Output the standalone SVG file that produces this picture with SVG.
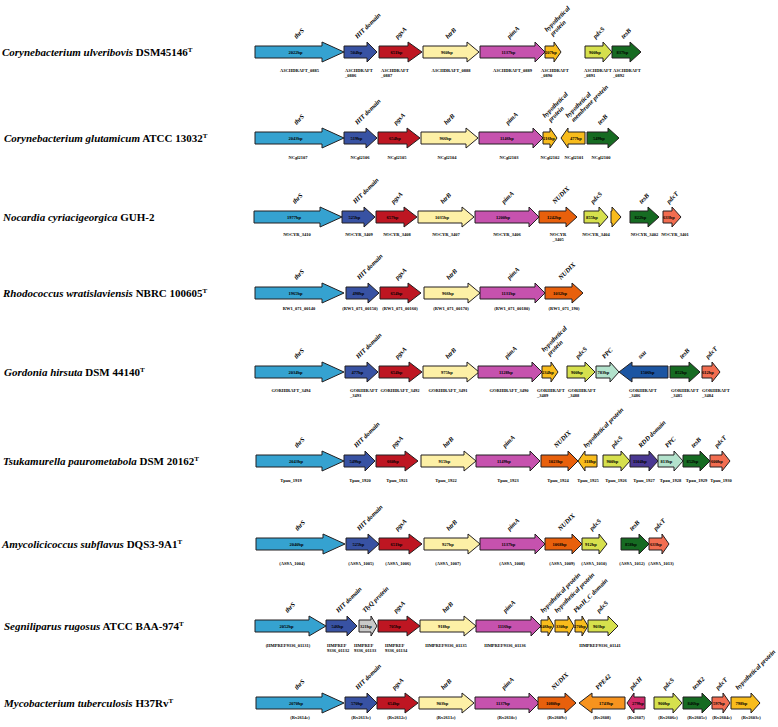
<svg xmlns="http://www.w3.org/2000/svg" width="778" height="727" viewBox="0 0 778 727">
<style>
.a{stroke:#231f20;stroke-width:1;stroke-linejoin:miter}
.thr{fill:#35a2d0}.hit{fill:#3852a3}.pgs{fill:#be1622}.htr{fill:#fdf0a6}.pim{fill:#c652ae}
.hyp{fill:#f8bc1c}.nud{fill:#e8600c}.pds{fill:#d6e04d}.tes{fill:#166b22}.pdt{fill:#f26d50}
.ppc{fill:#b3e2cc}.ssu{fill:#1c55a2}.rdd{fill:#4a3892}.tly{fill:#c9c9c9}.ppe{fill:#f7931e}.pdh{fill:#d22a6a}
text{font-family:"Liberation Serif","Times New Roman",serif;font-weight:bold;fill:#000}
.sp{font-size:11px}
.i{font-style:italic}
.lab{font-size:6.5px;font-style:italic}
.sz{font-size:4.5px;text-anchor:middle}
.loc{font-size:4.5px;text-anchor:middle}
.l{text-anchor:start}
</style>
<g id="connectors"/>

<g id="row1" transform="translate(0,52)">
<g id="sp1"><text class="sp" x="2" y="4"><tspan class="i">Corynebacterium ulveribovis</tspan> DSM45146<tspan dy="-4" font-size="7">T</tspan></text></g>
<g id="r1-thrS"><polygon class="a thr" points="255,-6 322,-6 322,-10 344,0 322,10 322,6 255,6"/><text class="sz" x="295.5" y="1.6">2022bp</text><text class="lab" transform="translate(296.5,-13) rotate(-45)">thrS</text><text class="loc" x="299.5" y="20">A3CHDRAFT_0885</text></g>
<g id="r1-hit"><polygon class="a hit" points="344,-6 367,-6 367,-10 377,0 367,10 367,6 344,6"/><text class="sz" x="356.5" y="1.6">504bp</text><text class="lab" transform="translate(357.5,-13) rotate(-45)">HIT domain</text><text class="loc l" x="345" y="20">A3CHDRAFT<tspan x="345" dy="5">_0886</tspan></text></g>
<g id="r1-pgsA"><polygon class="a pgs" points="379,-6 408,-6 408,-10 422,0 408,10 408,6 379,6"/><text class="sz" x="396.5" y="1.6">651bp</text><text class="lab" transform="translate(397.5,-13) rotate(-45)">pgsA</text><text class="loc l" x="381" y="20">A3CHDRAFT<tspan x="381" dy="5">_0887</tspan></text></g>
<g id="r1-htrB"><polygon class="a htr" points="423,-6 467,-6 467,-10 479,0 467,10 467,6 423,6"/><text class="sz" x="447" y="1.6">960bp</text><text class="lab" transform="translate(448,-13) rotate(-45)">htrB</text><text class="loc" x="451" y="20">A3CHDRAFT_0888</text></g>
<g id="r1-pimA"><polygon class="a pim" points="480,-6 535,-6 535,-10 545,0 535,10 535,6 480,6"/><text class="sz" x="508.5" y="1.6">1137bp</text><text class="lab" transform="translate(509.5,-13) rotate(-45)">pimA</text><text class="loc" x="512.5" y="20">A3CHDRAFT_0889</text></g>
<g id="r1-hyp"><polygon class="a hyp" points="545,-6 554,-6 554,-10 561,0 554,10 554,6 545,6"/><text class="sz" x="551" y="1.6">207bp</text><text class="lab" transform="translate(547,-20) rotate(-45)">hypothetical<tspan x="1" dy="7">protein</tspan></text><text class="loc l" x="541" y="20">A3CHDRAFT<tspan x="541" dy="5">_0890</tspan></text></g>
<g id="r1-pdxS"><polygon class="a pds" points="585,-6 603,-6 603,-10 612,0 603,10 603,6 585,6"/><text class="sz" x="595" y="1.6">900bp</text><text class="lab" transform="translate(595.5,-13) rotate(-45)">pdxS</text><text class="loc l" x="584" y="20">A3CHDRAFT<tspan x="584" dy="5">_0891</tspan></text></g>
<g id="r1-tesB"><polygon class="a tes" points="612,-6 630,-6 630,-10 641,0 630,10 630,6 612,6"/><text class="sz" x="622.5" y="1.6">837bp</text><text class="lab" transform="translate(623.5,-13) rotate(-45)">tesB</text><text class="loc l" x="613" y="20">A3CHDRAFT<tspan x="613" dy="5">_0892</tspan></text></g>
</g>

<g id="row2" transform="translate(0,138)">
<g id="sp2"><text class="sp" x="4" y="4"><tspan class="i">Corynebacterium glutamicum</tspan> ATCC 13032<tspan dy="-4" font-size="7">T</tspan></text></g>
<g id="r2-thrS"><polygon class="a thr" points="255,-6 322,-6 322,-10 344,0 322,10 322,6 255,6"/><text class="sz" x="295.5" y="1.6">2043bp</text><text class="lab" transform="translate(296.5,-13) rotate(-45)">thrS</text><text class="loc" x="298" y="21">NCgl2107</text></g>
<g id="r2-hit"><polygon class="a hit" points="344,-6 366,-6 366,-10 377,0 366,10 366,6 344,6"/><text class="sz" x="356.5" y="1.6">519bp</text><text class="lab" transform="translate(357.5,-13) rotate(-45)">HIT domain</text><text class="loc" x="360" y="21">NCgl2106</text></g>
<g id="r2-pgsA"><polygon class="a pgs" points="378,-6 407,-6 407,-10 420,0 407,10 407,6 378,6"/><text class="sz" x="395" y="1.6">654bp</text><text class="lab" transform="translate(396,-13) rotate(-45)">pgsA</text><text class="loc" x="397" y="21">NCgl2105</text></g>
<g id="r2-htrB"><polygon class="a htr" points="421,-6 466,-6 466,-10 478,0 466,10 466,6 421,6"/><text class="sz" x="445.5" y="1.6">966bp</text><text class="lab" transform="translate(446.5,-13) rotate(-45)">htrB</text><text class="loc" x="447" y="21">NCgl2104</text></g>
<g id="r2-pimA"><polygon class="a pim" points="479,-6 533,-6 533,-10 543,0 533,10 533,6 479,6"/><text class="sz" x="507" y="1.6">1146bp</text><text class="lab" transform="translate(508,-13) rotate(-45)">pimA</text><text class="loc" x="509" y="21">NCgl2103</text></g>
<g id="r2-hyp"><polygon class="a hyp" points="543,-6 550,-6 550,-10 557,0 550,10 550,6 543,6"/><text class="sz" x="549" y="1.6">216bp</text><text class="lab" transform="translate(545,-20) rotate(-45)">hypothetical<tspan x="1" dy="7">protein</tspan></text><text class="loc" x="550" y="21">NCgl2102</text></g>
<g id="r2-hypm"><polygon class="a hyp" points="585,-6 568,-6 568,-10 561,0 568,10 568,6 585,6"/><text class="sz" x="576" y="1.6">477bp</text><text class="lab" transform="translate(568,-20) rotate(-45)">hypothetical<tspan x="1" dy="7">membrane protein</tspan></text><text class="loc" x="574" y="21">NCgl2101</text></g>
<g id="r2-tesB"><polygon class="a tes" points="587,-6 608,-6 608,-10 619,0 608,10 608,6 587,6"/><text class="sz" x="599" y="1.6">549bp</text><text class="lab" transform="translate(600,-13) rotate(-45)">tesB</text><text class="loc" x="601" y="21">NCgl2100</text></g>
</g>

<g id="row3" transform="translate(0,217)">
<g id="sp3"><text class="sp" x="3" y="4"><tspan class="i">Nocardia cyriacigeorgica</tspan> GUH-2</text></g>
<g id="r3-thrS"><polygon class="a thr" points="254,-6 320,-6 320,-10 342,0 320,10 320,6 254,6"/><text class="sz" x="294" y="1.6">1977bp</text><text class="lab" transform="translate(295,-13) rotate(-45)">thrS</text><text class="loc" x="297" y="19">NOCYR_3410</text></g>
<g id="r3-hit"><polygon class="a hit" points="342,-6 364,-6 364,-10 375,0 364,10 364,6 342,6"/><text class="sz" x="354.5" y="1.6">525bp</text><text class="lab" transform="translate(355.5,-13) rotate(-45)">HIT domain</text><text class="loc" x="359" y="19">NOCYR_3409</text></g>
<g id="r3-pgsA"><polygon class="a pgs" points="376,-6 404,-6 404,-10 417,0 404,10 404,6 376,6"/><text class="sz" x="392.5" y="1.6">657bp</text><text class="lab" transform="translate(393.5,-13) rotate(-45)">pgsA</text><text class="loc" x="397" y="19">NOCYR_3408</text></g>
<g id="r3-htrB"><polygon class="a htr" points="418,-6 462,-6 462,-10 474,0 462,10 462,6 418,6"/><text class="sz" x="442" y="1.6">1035bp</text><text class="lab" transform="translate(443,-13) rotate(-45)">htrB</text><text class="loc" x="446" y="19">NOCYR_3407</text></g>
<g id="r3-pimA"><polygon class="a pim" points="475,-6 529,-6 529,-10 539,0 529,10 529,6 475,6"/><text class="sz" x="503" y="1.6">1200bp</text><text class="lab" transform="translate(504,-13) rotate(-45)">pimA</text><text class="loc" x="507" y="19">NOCYR_3406</text></g>
<g id="r3-nudix"><polygon class="a nud" points="539,-6 566,-6 566,-10 577,0 566,10 566,6 539,6"/><text class="sz" x="554" y="1.6">1242bp</text><text class="lab" transform="translate(555,-13) rotate(-45)">NUDIX</text><text class="loc" x="558" y="19">NOCYR<tspan x="558" dy="5">_3405</tspan></text></g>
<g id="r3-pdxS"><polygon class="a pds" points="584,-6 599,-6 599,-10 608,0 599,10 599,6 584,6"/><text class="sz" x="592" y="1.6">855bp</text><text class="lab" transform="translate(593,-13) rotate(-45)">pdxS</text><text class="loc" x="596" y="19">NOCYR_3404</text></g>
<g id="r3-small"><polygon class="a hyp" points="611,-6 612,-6 612,-10 621,0 612,10 612,6 611,6"/></g>
<g id="r3-tesB"><polygon class="a tes" points="630,-6 648,-6 648,-10 659,0 648,10 648,6 630,6"/><text class="sz" x="640.5" y="1.6">822bp</text><text class="lab" transform="translate(641.5,-13) rotate(-45)">tesB</text><text class="loc" x="644.5" y="19">NOCYR_3402</text></g>
<g id="r3-pdxT"><polygon class="a pdt" points="663,-6 672,-6 672,-10 681,0 672,10 672,6 663,6"/><text class="sz" x="669" y="1.6">633bp</text><text class="lab" transform="translate(669,-13) rotate(-45)">pdxT</text><text class="loc" x="675" y="19">NOCYR_3401</text></g>
</g>

<g id="row4" transform="translate(0,293)">
<g id="sp4"><text class="sp" x="3" y="4"><tspan class="i">Rhodococcus wratislaviensis</tspan> NBRC 100605<tspan dy="-4" font-size="7">T</tspan></text></g>
<g id="r4-thrS"><polygon class="a thr" points="255,-6 322,-6 322,-10 344,0 322,10 322,6 255,6"/><text class="sz" x="295.5" y="1.6">1965bp</text><text class="lab" transform="translate(296.5,-13) rotate(-45)">thrS</text><text class="loc" x="299" y="17">RW1_071_00140</text></g>
<g id="r4-hit"><polygon class="a hit" points="346,-6 368,-6 368,-10 379,0 368,10 368,6 346,6"/><text class="sz" x="358.5" y="1.6">498bp</text><text class="lab" transform="translate(359.5,-13) rotate(-45)">HIT domain</text><text class="loc" x="360" y="17">(RW1_071_00150)</text></g>
<g id="r4-pgsA"><polygon class="a pgs" points="380,-6 408,-6 408,-10 421,0 408,10 408,6 380,6"/><text class="sz" x="396.5" y="1.6">654bp</text><text class="lab" transform="translate(397.5,-13) rotate(-45)">pgsA</text><text class="loc" x="400" y="17">(RW1_071_00160)</text></g>
<g id="r4-htrB"><polygon class="a htr" points="424,-6 468,-6 468,-10 480,0 468,10 468,6 424,6"/><text class="sz" x="448" y="1.6">966bp</text><text class="lab" transform="translate(449,-13) rotate(-45)">htrB</text><text class="loc" x="451" y="17">(RW1_071_00170)</text></g>
<g id="r4-pimA"><polygon class="a pim" points="480,-6 535,-6 535,-10 545,0 535,10 535,6 480,6"/><text class="sz" x="508.5" y="1.6">1131bp</text><text class="lab" transform="translate(509.5,-13) rotate(-45)">pimA</text><text class="loc" x="512" y="17">(RW1_071_00180)</text></g>
<g id="r4-nudix"><polygon class="a nud" points="545,-6 572,-6 572,-10 583,0 572,10 572,6 545,6"/><text class="sz" x="560" y="1.6">1032bp</text><text class="lab" transform="translate(561,-13) rotate(-45)">NUDIX</text><text class="loc" x="564" y="17">(RW1_071_190)</text></g>
</g>

<g id="row5" transform="translate(0,372)">
<g id="sp5"><text class="sp" x="4" y="4"><tspan class="i">Gordonia hirsuta</tspan> DSM 44140<tspan dy="-4" font-size="7">T</tspan></text></g>
<g id="r5-thrS"><polygon class="a thr" points="255,-6 322,-6 322,-10 344,0 322,10 322,6 255,6"/><text class="sz" x="295.5" y="1.6">2034bp</text><text class="lab" transform="translate(296.5,-13) rotate(-45)">thrS</text><text class="loc" x="291" y="20">GORHIRAFT_3494</text></g>
<g id="r5-hit"><polygon class="a hit" points="345,-6 367,-6 367,-10 378,0 367,10 367,6 345,6"/><text class="sz" x="357.5" y="1.6">477bp</text><text class="lab" transform="translate(358.5,-13) rotate(-45)">HIT domain</text><text class="loc l" x="350" y="20">GORHIRAFT<tspan x="350" dy="5">_3493</tspan></text></g>
<g id="r5-pgsA"><polygon class="a pgs" points="379,-6 409,-6 409,-10 422,0 409,10 409,6 379,6"/><text class="sz" x="396.5" y="1.6">654bp</text><text class="lab" transform="translate(397.5,-13) rotate(-45)">pgsA</text><text class="loc" x="400" y="20">GORHIRAFT_3492</text></g>
<g id="r5-htrB"><polygon class="a htr" points="423,-6 467,-6 467,-10 479,0 467,10 467,6 423,6"/><text class="sz" x="447" y="1.6">975bp</text><text class="lab" transform="translate(448,-13) rotate(-45)">htrB</text><text class="loc" x="448" y="20">GORHIRAFT_3491</text></g>
<g id="r5-pimA"><polygon class="a pim" points="478,-6 532,-6 532,-10 542,0 532,10 532,6 478,6"/><text class="sz" x="506" y="1.6">1128bp</text><text class="lab" transform="translate(507,-13) rotate(-45)">pimA</text><text class="loc" x="509" y="20">GORHIRAFT_3490</text></g>
<g id="r5-hyp"><polygon class="a hyp" points="542,-6 551,-6 551,-10 558,0 551,10 551,6 542,6"/><text class="sz" x="548" y="1.6">234bp</text><text class="lab" transform="translate(544,-20) rotate(-45)">hypothetical<tspan x="1" dy="7">protein</tspan></text><text class="loc l" x="537" y="20">GORHIRAFT<tspan x="537" dy="5">_3489</tspan></text></g>
<g id="r5-pdxS"><polygon class="a pds" points="567,-6 585,-6 585,-10 595,0 585,10 585,6 567,6"/><text class="sz" x="577" y="1.6">900bp</text><text class="lab" transform="translate(578,-13) rotate(-45)">pdxS</text><text class="loc l" x="568" y="20">GORHIRAFT<tspan x="568" dy="5">_3488</tspan></text></g>
<g id="r5-ppc"><polygon class="a ppc" points="596,-6 610,-6 610,-10 619,0 610,10 610,6 596,6"/><text class="sz" x="603.5" y="1.6">783bp</text><text class="lab" transform="translate(604.5,-13) rotate(-45)">PPC</text></g>
<g id="r5-ssu"><polygon class="a ssu" points="668,-6 632,-6 632,-10 619,0 632,10 632,6 668,6"/><text class="sz" x="647.5" y="1.6">1506bp</text><text class="lab" transform="translate(640.5,-13) rotate(-45)">ssu</text><text class="loc l" x="629" y="20">GORHIRAFT<tspan x="629" dy="5">_3486</tspan></text></g>
<g id="r5-tesB"><polygon class="a tes" points="670,-6 689,-6 689,-10 700,0 689,10 689,6 670,6"/><text class="sz" x="681" y="1.6">852bp</text><text class="lab" transform="translate(682,-13) rotate(-45)">tesB</text><text class="loc l" x="671" y="20">GORHIRAFT<tspan x="671" dy="5">_3485</tspan></text></g>
<g id="r5-pdxT"><polygon class="a pdt" points="702,-6 712,-6 712,-10 720,0 712,10 712,6 702,6"/><text class="sz" x="708" y="1.6">612bp</text><text class="lab" transform="translate(708,-13) rotate(-45)">pdxT</text><text class="loc l" x="702" y="20">GORHIRAFT<tspan x="702" dy="5">_3484</tspan></text></g>
</g>

<g id="row6" transform="translate(0,461)">
<g id="sp6"><text class="sp" x="3" y="4"><tspan class="i">Tsukamurella paurometabola</tspan> DSM 20162<tspan dy="-4" font-size="7">T</tspan></text></g>
<g id="r6-thrS"><polygon class="a thr" points="256,-6 322,-6 322,-10 344,0 322,10 322,6 256,6"/><text class="sz" x="296" y="1.6">2043bp</text><text class="lab" transform="translate(297,-13) rotate(-45)">thrS</text><text class="loc" x="291" y="21">Tpau_1919</text></g>
<g id="r6-hit"><polygon class="a hit" points="344,-6 365,-6 365,-10 375,0 365,10 365,6 344,6"/><text class="sz" x="355.5" y="1.6">549bp</text><text class="lab" transform="translate(356.5,-13) rotate(-45)">HIT domain</text><text class="loc" x="360" y="21">Tpau_1920</text></g>
<g id="r6-pgsA"><polygon class="a pgs" points="376,-6 405,-6 405,-10 418,0 405,10 405,6 376,6"/><text class="sz" x="393" y="1.6">660bp</text><text class="lab" transform="translate(394,-13) rotate(-45)">pgsA</text><text class="loc" x="397" y="21">Tpau_1921</text></g>
<g id="r6-htrB"><polygon class="a htr" points="421,-6 464,-6 464,-10 476,0 464,10 464,6 421,6"/><text class="sz" x="444.5" y="1.6">915bp</text><text class="lab" transform="translate(445.5,-13) rotate(-45)">htrB</text><text class="loc" x="446" y="21">Tpau_1922</text></g>
<g id="r6-pimA"><polygon class="a pim" points="476,-6 530,-6 530,-10 540,0 530,10 530,6 476,6"/><text class="sz" x="504" y="1.6">1149bp</text><text class="lab" transform="translate(505,-13) rotate(-45)">pimA</text><text class="loc" x="508" y="21">Tpau_1923</text></g>
<g id="r6-nudix"><polygon class="a nud" points="541,-6 568,-6 568,-10 578,0 568,10 568,6 541,6"/><text class="sz" x="555.5" y="1.6">1023bp</text><text class="lab" transform="translate(556.5,-13) rotate(-45)">NUDIX</text><text class="loc" x="558" y="21">Tpau_1924</text></g>
<g id="r6-hyp"><polygon class="a hyp" points="597,-6 585,-6 585,-10 578,0 585,10 585,6 597,6"/><text class="sz" x="590" y="1.6">318bp</text><text class="lab" transform="translate(586,-13) rotate(-45)">hypothetical protein</text><text class="loc" x="588" y="21">Tpau_1925</text></g>
<g id="r6-pdxS"><polygon class="a pds" points="603,-6 621,-6 621,-10 630,0 621,10 621,6 603,6"/><text class="sz" x="612.5" y="1.6">900bp</text><text class="lab" transform="translate(613.5,-13) rotate(-45)">pdxS</text><text class="loc" x="616" y="21">Tpau_1926</text></g>
<g id="r6-rdd"><polygon class="a rdd" points="630,-6 649,-6 649,-10 658,0 649,10 649,6 630,6"/><text class="sz" x="640" y="1.6">1104bp</text><text class="lab" transform="translate(641,-13) rotate(-45)">RDD domain</text><text class="loc" x="644" y="21">Tpau_1927</text></g>
<g id="r6-ppc"><polygon class="a ppc" points="658,-6 674,-6 674,-10 683,0 674,10 674,6 658,6"/><text class="sz" x="666.5" y="1.6">813bp</text><text class="lab" transform="translate(667.5,-13) rotate(-45)">PPC</text><text class="loc" x="670.5" y="21">Tpau_1928</text></g>
<g id="r6-tesB"><polygon class="a tes" points="683,-6 700,-6 700,-10 710,0 700,10 700,6 683,6"/><text class="sz" x="692.5" y="1.6">852bp</text><text class="lab" transform="translate(693.5,-13) rotate(-45)">tesB</text><text class="loc" x="696.5" y="21">Tpau_1929</text></g>
<g id="r6-pdxT"><polygon class="a pdt" points="710,-6 722,-6 722,-10 730,0 722,10 722,6 710,6"/><text class="sz" x="717" y="1.6">600bp</text><text class="lab" transform="translate(717,-13) rotate(-45)">pdxT</text><text class="loc" x="721" y="21">Tpau_1930</text></g>
</g>

<g id="row7" transform="translate(0,544)">
<g id="sp7"><text class="sp" x="2" y="4"><tspan class="i">Amycolicicoccus subflavus</tspan> DQS3-9A1<tspan dy="-4" font-size="7">T</tspan></text></g>
<g id="r7-thrS"><polygon class="a thr" points="256,-6 323,-6 323,-10 345,0 323,10 323,6 256,6"/><text class="sz" x="296.5" y="1.6">2040bp</text><text class="lab" transform="translate(297.5,-13) rotate(-45)">thrS</text><text class="loc" x="292" y="21">(AS9A_1004)</text></g>
<g id="r7-hit"><polygon class="a hit" points="346,-6 368,-6 368,-10 379,0 368,10 368,6 346,6"/><text class="sz" x="358.5" y="1.6">525bp</text><text class="lab" transform="translate(359.5,-13) rotate(-45)">HIT domain</text><text class="loc" x="361" y="21">(AS9A_1005)</text></g>
<g id="r7-pgsA"><polygon class="a pgs" points="379,-6 409,-6 409,-10 422,0 409,10 409,6 379,6"/><text class="sz" x="396.5" y="1.6">651bp</text><text class="lab" transform="translate(397.5,-13) rotate(-45)">pgsA</text><text class="loc" x="398" y="21">(AS9A_1006)</text></g>
<g id="r7-htrB"><polygon class="a htr" points="424,-6 468,-6 468,-10 480,0 468,10 468,6 424,6"/><text class="sz" x="448" y="1.6">927bp</text><text class="lab" transform="translate(449,-13) rotate(-45)">htrB</text><text class="loc" x="448" y="21">(AS9A_1007)</text></g>
<g id="r7-pimA"><polygon class="a pim" points="480,-6 535,-6 535,-10 545,0 535,10 535,6 480,6"/><text class="sz" x="508.5" y="1.6">1137bp</text><text class="lab" transform="translate(509.5,-13) rotate(-45)">pimA</text><text class="loc" x="512" y="21">(AS9A_1008)</text></g>
<g id="r7-nudix"><polygon class="a nud" points="545,-6 572,-6 572,-10 582,0 572,10 572,6 545,6"/><text class="sz" x="559.5" y="1.6">1068bp</text><text class="lab" transform="translate(560.5,-13) rotate(-45)">NUDIX</text><text class="loc" x="562" y="21">(AS9A_1009)</text></g>
<g id="r7-pdxS"><polygon class="a pds" points="582,-6 599,-6 599,-10 607,0 599,10 599,6 582,6"/><text class="sz" x="591" y="1.6">912bp</text><text class="lab" transform="translate(592,-13) rotate(-45)">pdxS</text><text class="loc" x="594" y="21">(AS9A_1010)</text></g>
<g id="r7-tesB"><polygon class="a tes" points="621,-6 639,-6 639,-10 649,0 639,10 639,6 621,6"/><text class="sz" x="631" y="1.6">858bp</text><text class="lab" transform="translate(632,-13) rotate(-45)">tesB</text><text class="loc" x="632" y="21">(AS9A_1012)</text></g>
<g id="r7-pdxT"><polygon class="a pdt" points="649,-6 662,-6 662,-10 669,0 662,10 662,6 649,6"/><text class="sz" x="656" y="1.6">633bp</text><text class="lab" transform="translate(656,-13) rotate(-45)">pdxT</text><text class="loc" x="661" y="21">(AS9A_1013)</text></g>
</g>

<g id="row8" transform="translate(0,626)">
<g id="sp8"><text class="sp" x="4" y="4"><tspan class="i">Segniliparus rugosus</tspan> ATCC BAA-974<tspan dy="-4" font-size="7">T</tspan></text></g>
<g id="r8-thrS"><polygon class="a thr" points="255,-6 309,-6 309,-10 326,0 309,10 309,6 255,6"/><text class="sz" x="286.5" y="1.6">2052bp</text><text class="lab" transform="translate(287.5,-13) rotate(-45)">thrS</text><text class="loc" x="288" y="21">(HMPREF9336_01131)</text></g>
<g id="r8-hit"><polygon class="a hit" points="326,-6 347,-6 347,-10 357,0 347,10 347,6 326,6"/><text class="sz" x="337.5" y="1.6">546bp</text><text class="lab" transform="translate(338.5,-13) rotate(-45)">HIT domain</text><text class="loc l" x="327" y="21">HMPREF<tspan x="327" dy="5">9336_01132</tspan></text></g>
<g id="r8-tly"><polygon class="a tly" points="359,-6 371,-6 371,-10 377,0 371,10 371,6 359,6"/><text class="sz" x="366" y="1.6">321bp</text><text class="lab" transform="translate(365,-13) rotate(-45)">TlyQ protein</text><text class="loc l" x="354" y="21">HMPREF<tspan x="354" dy="5">9336_01133</tspan></text></g>
<g id="r8-pgsA"><polygon class="a pgs" points="378,-6 407,-6 407,-10 420,0 407,10 407,6 378,6"/><text class="sz" x="395" y="1.6">705bp</text><text class="lab" transform="translate(396,-13) rotate(-45)">pgsA</text><text class="loc l" x="385" y="21">HMPREF<tspan x="385" dy="5">9336_01134</tspan></text></g>
<g id="r8-htrB"><polygon class="a htr" points="420,-6 464,-6 464,-10 476,0 464,10 464,6 420,6"/><text class="sz" x="444" y="1.6">918bp</text><text class="lab" transform="translate(445,-13) rotate(-45)">htrB</text><text class="loc" x="446" y="21">HMPREF9336_01135</text></g>
<g id="r8-pimA"><polygon class="a pim" points="476,-6 531,-6 531,-10 541,0 531,10 531,6 476,6"/><text class="sz" x="504.5" y="1.6">1116bp</text><text class="lab" transform="translate(505.5,-13) rotate(-45)">pimA</text><text class="loc" x="505" y="21">HMPREF9336_01136</text></g>
<g id="r8-hyp1"><polygon class="a hyp" points="541,-6 548,-6 548,-10 554,0 548,10 548,6 541,6"/><text class="sz" x="546" y="1.6">246bp</text><text class="lab" transform="translate(543,-13) rotate(-45)">hypothetical protein</text></g>
<g id="r8-hyp2"><polygon class="a hyp" points="555,-6 568,-6 568,-10 574,0 568,10 568,6 555,6"/><text class="sz" x="562" y="1.6">330bp</text><text class="lab" transform="translate(557,-13) rotate(-45)">hypothetical protein</text></g>
<g id="r8-pknh"><polygon class="a hyp" points="575,-6 582,-6 582,-10 588,0 582,10 582,6 575,6"/><text class="sz" x="580" y="1.6">270bp</text><text class="lab" transform="translate(576,-13) rotate(-45)">PknH_C domain</text></g>
<g id="r8-pdxS"><polygon class="a pds" points="588,-6 608,-6 608,-10 618,0 608,10 608,6 588,6"/><text class="sz" x="599" y="1.6">903bp</text><text class="lab" transform="translate(599,-13) rotate(-45)">pdxS</text><text class="loc" x="600" y="21">HMPREF9336_01141</text></g>
</g>

<g id="row9" transform="translate(0,703)">
<g id="sp9"><text class="sp" x="4" y="4"><tspan class="i">Mycobacterium tuberculosis</tspan> H37Rv<tspan dy="-4" font-size="7">T</tspan></text></g>
<g id="r9-thrS"><polygon class="a thr" points="256,-6 322,-6 322,-10 344,0 322,10 322,6 256,6"/><text class="sz" x="296" y="1.6">2070bp</text><text class="lab" transform="translate(297,-13) rotate(-45)">thrS</text><text class="loc" x="300" y="16">(Rv2614c)</text></g>
<g id="r9-hit"><polygon class="a hit" points="345,-6 367,-6 367,-10 377,0 367,10 367,6 345,6"/><text class="sz" x="357" y="1.6">570bp</text><text class="lab" transform="translate(358,-13) rotate(-45)">HIT domain</text><text class="loc" x="361" y="16">(Rv2613c)</text></g>
<g id="r9-pgsA"><polygon class="a pgs" points="377,-6 405,-6 405,-10 418,0 405,10 405,6 377,6"/><text class="sz" x="393.5" y="1.6">654bp</text><text class="lab" transform="translate(394.5,-13) rotate(-45)">pgsA</text><text class="loc" x="397" y="16">(Rv2612c)</text></g>
<g id="r9-htrB"><polygon class="a htr" points="419,-6 462,-6 462,-10 474,0 462,10 462,6 419,6"/><text class="sz" x="442.5" y="1.6">903bp</text><text class="lab" transform="translate(443.5,-13) rotate(-45)">htrB</text><text class="loc" x="446" y="16">(Rv2611c)</text></g>
<g id="r9-pimA"><polygon class="a pim" points="475,-6 529,-6 529,-10 539,0 529,10 529,6 475,6"/><text class="sz" x="503" y="1.6">1137bp</text><text class="lab" transform="translate(504,-13) rotate(-45)">pimA</text><text class="loc" x="507" y="16">(Rv2610c)</text></g>
<g id="r9-nudix"><polygon class="a nud" points="538,-6 565,-6 565,-10 576,0 565,10 565,6 538,6"/><text class="sz" x="553" y="1.6">1080bp</text><text class="lab" transform="translate(554,-13) rotate(-45)">NUDIX</text><text class="loc" x="557" y="16">(Rv2609c)</text></g>
<g id="r9-ppe42"><polygon class="a ppe" points="625,-6 592,-6 592,-10 579,0 592,10 592,6 625,6"/><text class="sz" x="606" y="1.6">1743bp</text><text class="lab" transform="translate(598,-13) rotate(-45)">PPE42</text><text class="loc" x="602" y="16">(Rv2608)</text></g>
<g id="r9-pdxH"><polygon class="a pdh" points="645,-6 634,-6 634,-10 627,0 634,10 634,6 645,6"/><text class="sz" x="638" y="1.6">279bp</text><text class="lab" transform="translate(632,-13) rotate(-45)">pdxH</text><text class="loc" x="636" y="16">(Rv2607)</text></g>
<g id="r9-pdxS"><polygon class="a pds" points="654,-6 673,-6 673,-10 682,0 673,10 673,6 654,6"/><text class="sz" x="664" y="1.6">900bp</text><text class="lab" transform="translate(665,-13) rotate(-45)">pdxS</text><text class="loc" x="668" y="16">(Rv2606c)</text></g>
<g id="r9-tesB2"><polygon class="a tes" points="683,-6 702,-6 702,-10 712,0 702,10 702,6 683,6"/><text class="sz" x="693.5" y="1.6">846bp</text><text class="lab" transform="translate(694.5,-13) rotate(-45)">tesB2</text><text class="loc" x="697" y="16">(Rv2605c)</text></g>
<g id="r9-pdxT"><polygon class="a pdt" points="712,-6 723,-6 723,-10 730,0 723,10 723,6 712,6"/><text class="sz" x="719" y="1.6">597bp</text><text class="lab" transform="translate(718,-13) rotate(-45)">pdxT</text><text class="loc" x="722" y="16">(Rv2604c)</text></g>
<g id="r9-hyp"><polygon class="a hyp" points="731,-6 751,-6 751,-10 760,0 751,10 751,6 731,6"/><text class="sz" x="741.5" y="1.6">798bp</text><text class="lab" transform="translate(738,-13) rotate(-45)">hypothetical protein</text><text class="loc" x="751" y="16">(Rv2603c)</text></g>
</g>
</svg>
